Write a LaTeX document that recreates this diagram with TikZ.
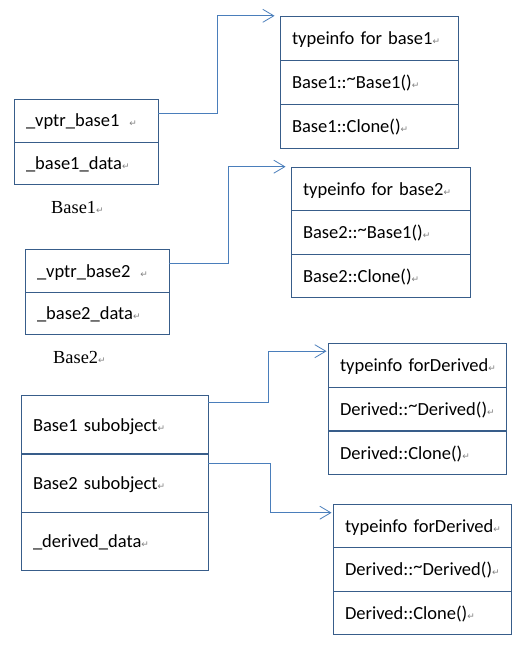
\documentclass[tikz,border=0pt]{standalone}
\usepackage{fontspec}
\setmainfont{Carlito}
\newfontfamily\labelfont{Liberation Serif}
\newfontfamily\markfont{DejaVu Sans}
\usetikzlibrary{arrows.meta}

\definecolor{boxline}{HTML}{385D8A}
\definecolor{arrowline}{HTML}{4A7EBB}
\definecolor{markgray}{HTML}{808080}

% the little return mark after each line
\newcommand\ret{{\markfont\fontsize{9}{9}\selectfont\color{markgray}↵}}
% raised tilde of the destructors
\newcommand\dtor{\raisebox{3.5pt}{\textasciitilde}}

\tikzset{
  cell/.style={draw=boxline,line width=0.9pt,inner xsep=0pt,inner ysep=0pt,
    text height=12pt,text depth=0pt,align=left,
    font=\fontsize{18.5}{20}\selectfont,
    execute at begin node={\noindent\hspace*{12pt}},
    execute at end node={\ret}},
  ptr/.style={draw=arrowline,line width=0.8pt,
    -{Straight Barb[length=11pt,width=13pt]}},
  caption/.style={inner sep=0pt,text height=12pt,text depth=0pt,anchor=west,
    font=\labelfont\fontsize{18.4}{20}\selectfont},
}

\begin{document}
\begin{tikzpicture}[x=1pt,y=-1pt]
\useasboundingbox (0,0) rectangle (526,647);
% Base1
\node[cell,text width=144pt,minimum height=42.5pt] (vptr1) at (86,121) {\_vptr\_base1\hspace*{10pt}};
\node[cell,text width=144pt,minimum height=42.5pt] (data1) at (86,163.5) {\_base1\_data};
\node[caption] (name1) at (51,207) {Base1\ret};
\node[cell,text width=178pt,minimum height=44pt] (type1) at (369,38.25) {typeinfo for base1};
\node[cell,text width=178pt,minimum height=44pt] (dtor1) at (369,82.5) {Base1::\dtor Base1()};
\node[cell,text width=178pt,minimum height=44pt] (clone1) at (369,126.25) {Base1::Clone()};
\draw[ptr] ([yshift=8pt]vptr1.east) -- ++(59,0) |- ([xshift=-5pt]type1.north west);
% Base2
\node[cell,text width=144pt,minimum height=42.5pt] (vptr2) at (97,271) {\_vptr\_base2\hspace*{10pt}};
\node[cell,text width=144pt,minimum height=42.5pt] (data2) at (97,313.5) {\_base2\_data};
\node[caption] (name2) at (53,357.5) {Base2\ret};
\node[cell,text width=179pt,minimum height=43.7pt] (type2) at (380.5,189) {typeinfo for base2};
\node[cell,text width=179pt,minimum height=43.7pt] (dtor2) at (380.5,232.5) {Base2::\dtor Base1()};
\node[cell,text width=179pt,minimum height=43.7pt] (clone2) at (380.5,276) {Base2::Clone()};
\draw[ptr] ([yshift=8pt]vptr2.east) -- ++(59,0) |- ([xshift=-5pt]type2.north west);
% Derived
\node[cell,text width=187pt,minimum height=58.3pt] (sub1) at (114.5,425) {Base1 subobject};
\node[cell,text width=187pt,minimum height=58.3pt] (sub2) at (114.5,483) {Base2 subobject};
\node[cell,text width=187pt,minimum height=58.3pt] (data3) at (114.5,541.5) {\_derived\_data};
\node[cell,text width=178pt,minimum height=43.7pt] (type3) at (417,365.5) {typeinfo forDerived};
\node[cell,text width=178pt,minimum height=43.7pt] (dtor3) at (417,409) {Derived::\dtor Derived()};
\node[cell,text width=178pt,minimum height=43.7pt] (clone3) at (417,453) {Derived::Clone()};
\node[cell,text width=178pt,minimum height=43.7pt] (type4) at (422,526) {typeinfo forDerived};
\node[cell,text width=178pt,minimum height=43.7pt] (dtor4) at (422,569.5) {Derived::\dtor Derived()};
\node[cell,text width=178pt,minimum height=43.7pt] (clone4) at (422,613) {Derived::Clone()};
\draw[ptr] ([yshift=23pt]sub1.east) -- ++(60,0) |- ([xshift=-1pt,yshift=-8pt]type3.north west);
\draw[ptr] ([yshift=20pt]sub2.east) -- ++(62,0) |- ([xshift=-1pt,yshift=-9pt]type4.north west);
\end{tikzpicture}
\end{document}
